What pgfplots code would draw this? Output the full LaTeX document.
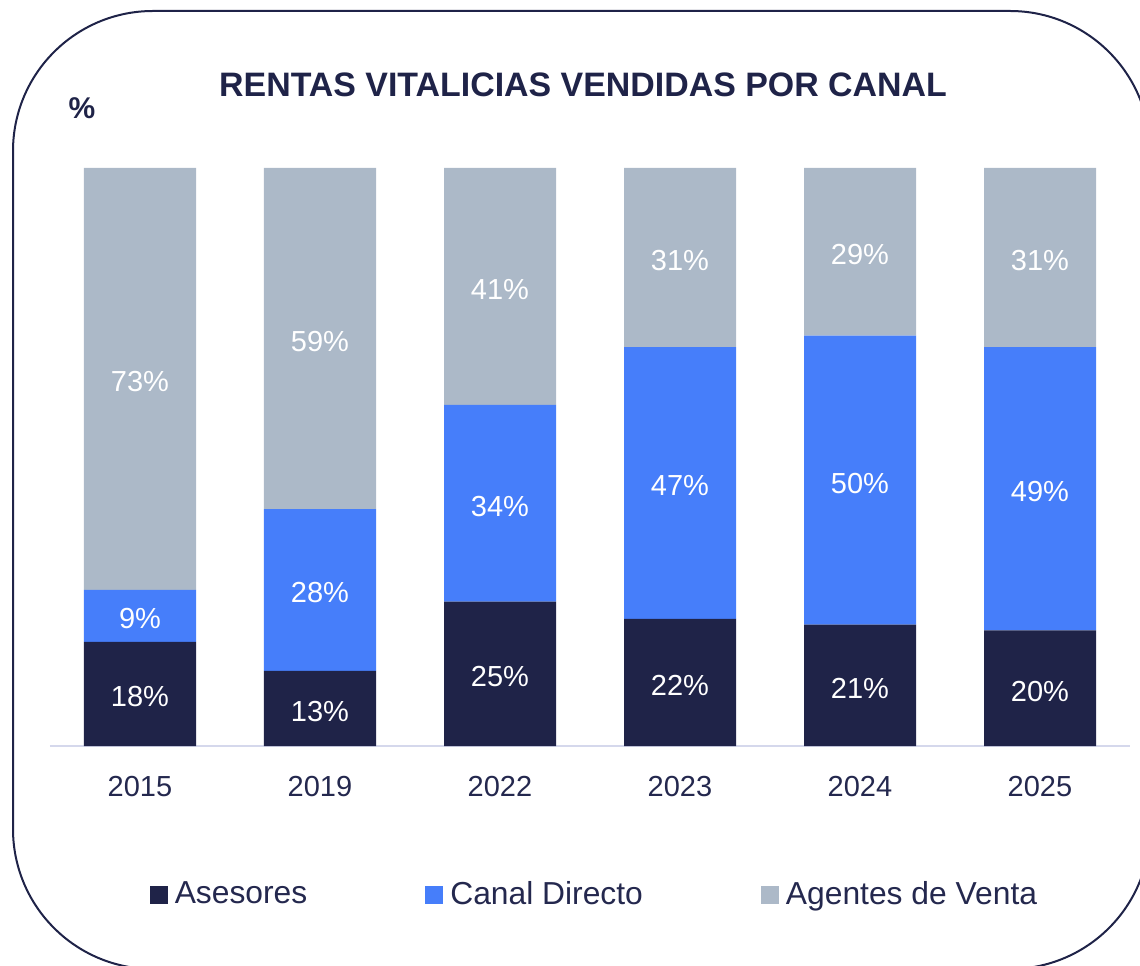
\documentclass[border=0pt]{standalone}
\usepackage{fontspec}
\setmainfont{Liberation Sans}
\usepackage{pgfplots}
\usepackage{pgfplotstable}
\pgfplotsset{compat=1.18}
\definecolor{navy}{RGB}{31,35,72}
\definecolor{cblue}{RGB}{70,126,250}
\definecolor{cgray}{RGB}{172,185,200}
\definecolor{baseline}{RGB}{213,216,236}
\definecolor{txt}{RGB}{36,40,78}

\pgfplotstableread{
x a c g
0 18 9 73
1 13 28 59
2 25 34 41
3 22 47 31
4 21 50 29
5 20 49 31
}\datatable

\begin{document}
\begin{tikzpicture}
\useasboundingbox (0,0) rectangle (570pt,482.5pt);
\begin{scope}
\clip (0,0) rectangle (570pt,482.5pt);
\draw[navy, line width=1pt, rounded corners=70pt] (6.5pt,477pt) rectangle (575pt,-2pt);
\end{scope}
\node[font=\bfseries\fontsize{16.95}{20}\selectfont, text=navy] at (291.5pt,440pt) {RENTAS VITALICIAS VENDIDAS POR CANAL};
\node[font=\bfseries\fontsize{15}{18}\selectfont, text=navy] at (41pt,428.5pt) {\%};
\begin{axis}[
  at={(25pt,109.5pt)}, anchor=south west,
  width=540pt, height=289pt, scale only axis,
  ybar stacked, bar width=56pt,
  xmin=-0.5, xmax=5.5, ymin=0, ymax=100,
  enlargelimits=false,
  axis x line=bottom, axis y line=none,
  axis line style={-},
  x axis line style={draw=baseline, line width=0.8pt},
  xtick={0,1,2,3,4,5},
  xticklabels={2015,2019,2022,2023,2024,2025},
  major tick length=0pt,
  xticklabel style={font=\fontsize{14.5}{17}\selectfont, text=txt, yshift=-11.5pt},
  nodes near coords={\pgfplotspointmeta\%},
  point meta=explicit symbolic,
  every node near coord/.append style={font=\fontsize{14.5}{17}\selectfont, text=white, anchor=center, yshift=-1.5pt},
  legend columns=3,
  legend style={draw=none, fill=none, at={(0.505,-0.257)}, anchor=center,
    font=\fontsize{15.9}{18}\selectfont, text=txt,
    /tikz/every odd column/.append style={column sep=1.5pt},
    /tikz/every even column/.append style={column sep=57pt}},
  legend image code/.code={\draw[#1,draw=none] (0pt,-4.5pt) rectangle (9pt,4.5pt);},
]
\addplot[fill=navy, draw=none] table[x=x, y=a, meta=a] \datatable;
\addplot[fill=cblue, draw=none] table[x=x, y=c, meta=c] \datatable;
\addplot[fill=cgray, draw=none] table[x=x, y=g, meta=g] \datatable;
\legend{Asesores, Canal Directo, Agentes de Venta}
\end{axis}
\end{tikzpicture}
\end{document}
